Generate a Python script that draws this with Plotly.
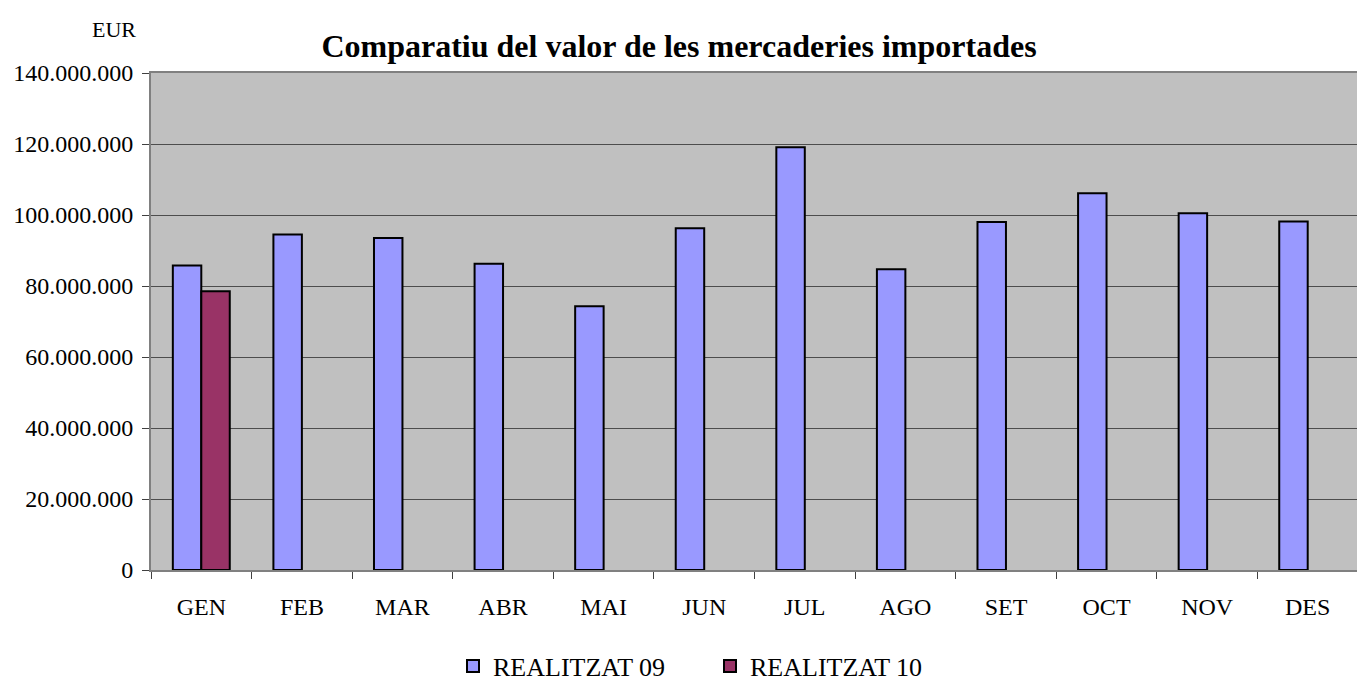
import plotly.graph_objects as go

months = ["GEN", "FEB", "MAR", "ABR", "MAI", "JUN", "JUL", "AGO", "SET", "OCT", "NOV", "DES"]
realitzat_09 = [85.8e6, 94.5e6, 93.5e6, 86.3e6, 74.3e6, 96.3e6, 119.1e6, 84.7e6, 98.0e6, 106.1e6, 100.5e6, 98.2e6]
realitzat_10 = [78.5e6, None, None, None, None, None, None, None, None, None, None, None]
y_ticks = [0, 20e6, 40e6, 60e6, 80e6, 100e6, 120e6, 140e6]

FONT = "'Liberation Serif', 'Times New Roman', serif"

fig = go.Figure()
fig.add_trace(go.Bar(x=months, y=realitzat_09, name="REALITZAT 09",
                     marker=dict(color="#9999FF", line=dict(color="#000000", width=2))))
fig.add_trace(go.Bar(x=months, y=realitzat_10, name="REALITZAT 10",
                     marker=dict(color="#993366", line=dict(color="#000000", width=2))))

W, H = 1357, 676
fig.update_layout(
    width=W, height=H,
    margin=dict(l=142, r=5, t=65, b=114),
    paper_bgcolor="white", plot_bgcolor="#C0C0C0",
    barmode="group", bargap=0.434, bargroupgap=0,
    separators=",.",
    font=dict(family=FONT, size=24, color="#000000"),
    title=dict(text="<b>Comparatiu del valor de les mercaderies importades</b>",
               x=671 / W, xanchor="center", y=1 - 38 / H, yanchor="middle",
               font=dict(family=FONT, size=32, color="#000000")),
    showlegend=True,
    legend=dict(orientation="h", xref="container", yref="container",
                x=702 / W, xanchor="center", y=1 - 658 / H, yanchor="middle",
                font=dict(family=FONT, size=26), traceorder="normal",
                itemwidth=30, tracegroupgap=0, entrywidth=212, entrywidthmode="pixels"),
    annotations=[dict(text="EUR", xref="paper", yref="paper", x=-0.031, y=1.087,
                      xanchor="center", yanchor="middle", showarrow=False,
                      font=dict(family=FONT, size=22))],
)
fig.update_xaxes(
    type="category", tickson="boundaries", ticks="outside", ticklen=7,
    tickcolor="#404040", showline=True, linecolor="#808080", linewidth=2, mirror=True,
    showgrid=False, ticklabelstandoff=14, tickfont=dict(family=FONT, size=24),
)
fig.update_yaxes(
    range=[0, 140e6], tickvals=y_ticks, tickformat=",d", ticks="outside", ticklen=7,
    tickcolor="#404040", showline=True, linecolor="#808080", linewidth=2, mirror=True,
    showgrid=True, gridcolor="#4d4d4d", gridwidth=1, zeroline=False,
    ticklabelstandoff=4, tickfont=dict(family=FONT, size=24),
)

fig.write_html("out.html")
